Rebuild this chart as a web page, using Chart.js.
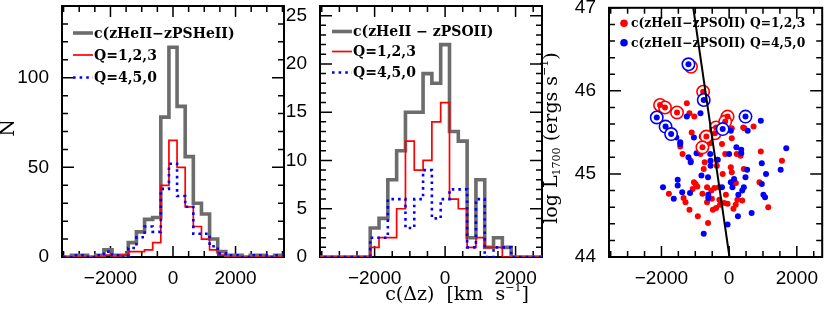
<!DOCTYPE html>
<html>
<head>
<meta charset="utf-8">
<script src="https://cdn.jsdelivr.net/npm/chart.js@4.4.1/dist/chart.umd.min.js"></script>
<style>
  body { margin: 0; background: #fff; }
  #wrap { position: relative; width: 830px; height: 312px; }
  #wrap canvas { position: absolute; left: 0; top: 0; }
</style>
</head>
<body>
<div id="wrap">
  <canvas id="c1" width="830" height="312"></canvas>
  <canvas id="c2" width="830" height="312"></canvas>
  <canvas id="c3" width="830" height="312"></canvas>
</div>
<script>
// ---- panel 1: c(zHeII - zPSHeII) histogram
const p1BinWidth = 260;
const p1Centers = [-3380,-3120,-2860,-2600,-2340,-2080,-1820,-1560,-1300,-1040,-780,-520,-260,0,
                   260,520,780,1040,1300,1560,1820,2080,2340,2600,2860,3120,3380];
const p1Gray = [0,1,1,0,1,4,1,1,8,14,21,22,78,117,84,56,30,24,10,3,1,1,0,1,1,0,1];
const p1Red  = [0,0,0,0,0,1,0,1,3,3,4,8,40,65,50,28,17,10,4,1,0,0,0,0,0,0,0];
const p1Blue = [0,1,1,0,1,3,1,0,5,11,17,14,38,52,34,28,13,13,6,2,1,1,0,1,1,0,1];

// ---- panel 2: c(zHeII - zPSOII) histogram
const p2BinWidth = 250;
const p2Centers = [-3500,-3250,-3000,-2750,-2500,-2250,-2000,-1750,-1500,-1250,-1000,-750,-500,-250,
                   0,250,500,750,1000,1250,1500,1750,2000,2250,2500,2750];
const p2Gray = [0,0,0,0,0,0,3,4,8,11,15,15,19,18,22,13,12,2,8,1,2,1,0,0,0,0];
const p2Red  = [0,0,0,0,0,0,1,2,2,5,12,9,10,14,16,6,5,1,2,1,1,0,0,0,0,0];
const p2Blue = [0,0,0,0,0,0,2,2,6,6,3,6,9,4,6,7,7,1,6,0,1,1,0,0,0,0];

// ---- panel 3: log L1700 vs offset
const p3RedX = [-1251,-1173,-1029,-1107,78,78,416,450,722,-1445,-558,-211,-1376,-1136,-847,-722,-364,-364,
  -116,223,338,936,1561,49,78,-191,434,-751,-653,-1040,-991,-942,-1078,-529,-434,-1780,-1347,-1289,-1173,
  -925,-789,-653,-624,-480,-384,-289,-270,-145,-46,-96,194,127,243,387,1156,896,-510,200,-300];
const p3RedY = [45.85,45.73,45.69,45.50,45.55,45.43,45.56,45.55,45.57,45.33,45.37,45.36,45.24,45.16,45.24,
  45.14,45.17,45.10,45.24,45.24,45.22,45.27,45.16,45.08,45.02,45.00,45.06,45.06,44.84,44.90,44.88,44.85,
  44.82,44.80,44.83,44.76,44.71,44.66,44.57,44.49,44.76,44.66,44.41,44.57,44.59,44.69,44.63,44.65,44.64,
  44.75,44.63,44.58,44.69,44.68,44.60,44.90,44.70,44.89,44.84];
const p3BlueX = [-1251,-847,-1040,-1561,-162,49,549,936,-809,-1445,-1445,-769,214,358,358,1688,-1202,-1136,
  -962,-558,-549,-549,-335,0,965,1090,1523,532,483,-818,-624,-1520,-1520,-1954,-1636,-1387,-1156,-616,-616,
  -751,272,260,-46,665,965,1012,1061,49,98,145,434,387,-211];
const p3BlueY = [45.69,45.73,45.44,45.44,45.70,45.52,45.52,45.64,45.45,45.38,45.36,45.32,45.32,45.29,45.25,
  45.31,45.20,45.14,45.25,45.24,45.16,45.10,45.17,45.24,45.13,45.00,45.05,45.05,44.96,44.98,44.96,44.93,
  44.86,44.84,44.70,44.78,44.77,44.75,44.71,44.28,44.75,44.49,44.39,44.53,44.88,44.75,44.72,44.90,44.84,
  44.94,44.84,44.80,44.84];
const p3RedRingX = [-1127,-769,-2041,-1896,-1540,-384,-420,-673,-789,-46,-116];
const p3RedRingY = [46.29,45.99,45.83,45.80,45.74,45.56,45.49,45.45,45.32,45.69,45.63];
const p3BlueRingX = [-1202,-751,-2139,-1879,-1714,-191,483];
const p3BlueRingY = [46.32,45.89,45.68,45.57,45.48,45.54,45.69];
const p3LineX = [-1060, 10];
const p3LineY = [47, 44];

// ---- ticks and labels
const xTickValues = [-2000, 0, 2000];
const p1YTicks = [0, 50, 100];
const p2YTicks = [0, 5, 10, 15, 20, 25];
const p3YTicks = [44, 45, 46, 47];
const p1Labels = ['c(zHeII\u2212zPSHeII)', 'Q=1,2,3', 'Q=4,5,0'];
const p2Labels = ['c(zHeII \u2212 zPSOII)', 'Q=1,2,3', 'Q=4,5,0'];
const p3Labels = ['c(zHeII\u2212zPSOII) Q=1,2,3', 'c(zHeII\u2212zPSOII) Q=4,5,0'];

const GRAY = '#6c6c6c', RED = '#ff0000', BLUE = '#0000ff';
const SERIF = '"DejaVu Serif", serif';
const tickFont = { family: '"Liberation Sans", Arial, sans-serif', size: 19 };

function steps(centers, values, width) {
  const out = centers.map((c, i) => ({ x: c - width / 2, y: values[i] }));
  out.push({ x: centers[centers.length - 1] + width / 2, y: values[values.length - 1] });
  return out;
}
function pairs(xs, ys) { return xs.map((x, i) => ({ x: x, y: ys[i] })); }
function fmt(v) { return v < 0 ? '\u2212' + Math.abs(v) : String(v); }

// draws rich text centred on x,y: parts = [[text, size, dy]]
function richText(ctx, parts, x, y, rot) {
  ctx.save();
  ctx.translate(x, y);
  if (rot) ctx.rotate(rot);
  let w = 0;
  parts.forEach(p => { ctx.font = p[1] + 'px ' + SERIF; w += ctx.measureText(p[0]).width; });
  let cx = -w / 2;
  ctx.textBaseline = 'middle';
  ctx.textAlign = 'left';
  ctx.fillStyle = '#000';
  parts.forEach(p => {
    ctx.font = p[1] + 'px ' + SERIF;
    ctx.fillText(p[0], cx, p[2] || 0);
    cx += ctx.measureText(p[0]).width;
  });
  ctx.restore();
}

const frame = {
  id: 'frame',
  beforeDatasetsDraw(chart, args, o) {
    const { ctx, chartArea: a, scales: { x, y } } = chart;
    ctx.save();
    ctx.strokeStyle = '#000';
    ctx.lineWidth = 1.5;
    ctx.beginPath();
    for (let v = Math.ceil(x.min / o.xMinor) * o.xMinor; v <= x.max; v += o.xMinor) {
      const px = x.getPixelForValue(v);
      const len = xTickValues.includes(v) ? 11 : 6;
      ctx.moveTo(px, a.bottom); ctx.lineTo(px, a.bottom - len);
      ctx.moveTo(px, a.top); ctx.lineTo(px, a.top + len);
    }
    for (let i = 0; ; i++) {
      const v = +(y.min + i * o.yMinor).toFixed(4);
      if (v > y.max + 1e-6) break;
      const py = y.getPixelForValue(v);
      const len = o.yMajor.includes(v) ? 12 : 6;
      ctx.moveTo(a.left, py); ctx.lineTo(a.left + len, py);
      ctx.moveTo(a.right, py); ctx.lineTo(a.right - len, py);
    }
    ctx.stroke();
    ctx.lineWidth = 2;
    ctx.strokeRect(a.left, a.top, a.right - a.left, a.bottom - a.top);
    ctx.restore();
  },
  afterDraw(chart, args, o) {
    const ctx = chart.ctx;
    ctx.save();
    (o.legend || []).forEach(it => {
      if (it.kind === 'dot') {
        ctx.fillStyle = it.color;
        ctx.beginPath(); ctx.arc(it.x0, it.y, 3.8, 0, Math.PI * 2); ctx.fill();
      } else {
        ctx.strokeStyle = it.color;
        ctx.lineWidth = it.lw;
        ctx.setLineDash(it.dash || []);
        ctx.beginPath(); ctx.moveTo(it.x0, it.y); ctx.lineTo(it.x1, it.y); ctx.stroke();
        ctx.setLineDash([]);
      }
      ctx.fillStyle = '#000';
      ctx.font = 'bold ' + o.legendSize + 'px ' + SERIF;
      ctx.textBaseline = 'middle';
      ctx.textAlign = 'left';
      ctx.fillText(it.text, it.tx, it.y + 1);
    });
    (o.titles || []).forEach(t => richText(ctx, t.parts, t.x, t.y, t.rot));
    ctx.restore();
  }
};

function scaleSet(xmin, xmax, ymin, ymax, yTicks, yWidth) {
  return {
    x: {
      type: 'linear', min: xmin, max: xmax,
      afterBuildTicks: s => { s.ticks = xTickValues.map(v => ({ value: v })); },
      afterFit: s => { s.height = 55; s.paddingLeft = 0; s.paddingRight = 0; },
      grid: { display: false, drawTicks: false }, border: { display: false },
      ticks: { padding: 10, font: tickFont, color: '#000', maxRotation: 0, autoSkip: false, callback: fmt }
    },
    y: {
      type: 'linear', min: ymin, max: ymax,
      afterBuildTicks: s => { s.ticks = yTicks.map(v => ({ value: v })); },
      afterFit: s => { s.width = yWidth; s.paddingTop = 0; s.paddingBottom = 0; },
      grid: { display: false, drawTicks: false }, border: { display: false },
      ticks: { padding: 13, font: tickFont, color: '#000', autoSkip: false, callback: fmt }
    }
  };
}

function histDatasets(centers, width, gray, red, blue) {
  return [
    { data: steps(centers, blue, width), borderColor: BLUE, borderWidth: 2.6, borderDash: [2.6, 4],
      stepped: 'before', pointRadius: 0, fill: false },
    { data: steps(centers, red, width), borderColor: RED, borderWidth: 1.7,
      stepped: 'before', pointRadius: 0, fill: false },
    { data: steps(centers, gray, width), borderColor: GRAY, borderWidth: 3.6,
      stepped: 'before', pointRadius: 0, fill: false }
  ];
}

function histLegend(labels, x0, tx, ys) {
  return [
    { text: labels[0], color: GRAY, lw: 3.6, x0: x0, x1: x0 + 20, tx: tx, y: ys[0] },
    { text: labels[1], color: RED, lw: 1.7, x0: x0, x1: x0 + 20, tx: tx, y: ys[1] },
    { text: labels[2], color: BLUE, lw: 2.6, dash: [2.6, 4], x0: x0, x1: x0 + 20, tx: tx, y: ys[2] }
  ];
}

const base = { responsive: false, animation: false, events: [] };

new Chart(document.getElementById('c1'), {
  type: 'line',
  data: { datasets: histDatasets(p1Centers, p1BinWidth, p1Gray, p1Red, p1Blue) },
  options: Object.assign({}, base, {
    layout: { padding: { left: 0, right: 546, top: 6, bottom: 0 } },
    scales: scaleSet(-3550, 3550, 0, 140, p1YTicks, 62),
    plugins: {
      legend: { display: false }, tooltip: { enabled: false },
      frame: {
        xMinor: 500, yMinor: 10, yMajor: p1YTicks, legendSize: 14,
        legend: histLegend(p1Labels, 73, 94, [33, 55, 77.5]),
        titles: [{ parts: [['N', 20]], x: 9, y: 128, rot: -Math.PI / 2 }]
      }
    }
  }),
  plugins: [frame]
});

new Chart(document.getElementById('c2'), {
  type: 'line',
  data: { datasets: histDatasets(p2Centers, p2BinWidth, p2Gray, p2Red, p2Blue) },
  options: Object.assign({}, base, {
    layout: { padding: { left: 280, right: 288, top: 6, bottom: 0 } },
    scales: scaleSet(-3550, 2750, 0, 26, p2YTicks, 40),
    plugins: {
      legend: { display: false }, tooltip: { enabled: false },
      frame: {
        xMinor: 500, yMinor: 1, yMajor: p2YTicks, legendSize: 14,
        legend: histLegend(p2Labels, 332, 353, [31.5, 51.5, 72.5]),
        titles: [{ parts: [['c(\u0394z)  [km  s', 19], ['\u22121', 11, -7], [']', 19]], x: 457, y: 295 }]
      }
    }
  }),
  plugins: [frame]
});

new Chart(document.getElementById('c3'), {
  type: 'scatter',
  data: {
    datasets: [
      { data: pairs(p3LineX, p3LineY), showLine: true, borderColor: '#000', borderWidth: 2, pointRadius: 0 },
      { data: pairs(p3BlueRingX, p3BlueRingY), pointRadius: 3, pointBorderWidth: 0, pointBackgroundColor: BLUE },
      { data: pairs(p3BlueRingX, p3BlueRingY), pointRadius: 6.2, pointBorderWidth: 1.6,
        pointBorderColor: BLUE, pointBackgroundColor: '#fff' },
      { data: pairs(p3RedRingX, p3RedRingY), pointRadius: 3, pointBorderWidth: 0, pointBackgroundColor: RED },
      { data: pairs(p3RedRingX, p3RedRingY), pointRadius: 6.2, pointBorderWidth: 1.6,
        pointBorderColor: RED, pointBackgroundColor: '#fff' },
      { data: pairs(p3BlueX, p3BlueY), pointRadius: 3, pointBorderWidth: 0, pointBackgroundColor: BLUE },
      { data: pairs(p3RedX, p3RedY), pointRadius: 3, pointBorderWidth: 0, pointBackgroundColor: RED }
    ]
  },
  options: Object.assign({}, base, {
    layout: { padding: { left: 569, right: 2, top: 6, bottom: 0 } },
    scales: scaleSet(-3550, 2750, 44, 47, p3YTicks, 40),
    plugins: {
      legend: { display: false }, tooltip: { enabled: false },
      frame: {
        xMinor: 500, yMinor: 0.2, yMajor: p3YTicks, legendSize: 12.3,
        legend: [
          { kind: 'dot', text: p3Labels[0], color: RED, x0: 624, tx: 631, y: 23.3 },
          { kind: 'dot', text: p3Labels[1], color: BLUE, x0: 624, tx: 631, y: 42.7 }
        ],
        titles: [{ parts: [['log L', 19], ['1700', 11, 5], [' (ergs s', 19], ['\u22121', 11, -7], [')', 19]],
                   x: 552, y: 138, rot: -Math.PI / 2 }]
      }
    }
  }),
  plugins: [frame]
});
</script>
</body>
</html>
